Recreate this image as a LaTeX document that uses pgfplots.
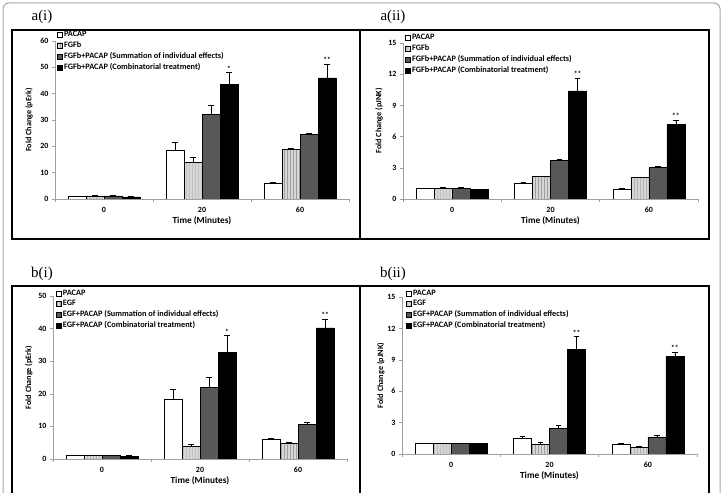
\documentclass[border=0pt]{standalone}
\usepackage{fontspec}
\setmainfont{Carlito}
\newfontfamily\seriffont{Liberation Serif}
\usepackage{pgfplots}
\usepackage{pgfplotstable}
\pgfplotsset{compat=1.18}
\usetikzlibrary{patterns}

\definecolor{lightbar}{HTML}{D6D6D6}
\definecolor{darkbar}{HTML}{585858}
\definecolor{axisgray}{HTML}{A0A0A0}

% columns: x, value, error (upper)
\pgfplotstableread{
x P eP F eF S eS C eC
0 1.0 0.2 1.2 0.2 1.2 0.2 0.8 0.2
1 18.5 3.0 14.0 2.0 32.0 3.5 43.5 4.5
2 6.0 0.5 18.8 0.3 24.5 0.4 46.0 5.2
}\dataai
\pgfplotstableread{
x P eP F eF S eS C eC
0 1.0 0.03 1.05 0.03 1.05 0.03 0.95 0.03
1 1.5 0.15 2.2 0.02 3.7 0.15 10.4 1.25
2 0.95 0.1 2.05 0.03 3.0 0.12 7.15 0.45
}\dataaii
\pgfplotstableread{
x P eP F eF S eS C eC
0 1.0 0.1 1.0 0.1 1.0 0.1 0.9 0.1
1 18.3 3.2 3.8 0.8 22.0 3.2 32.6 5.2
2 6.0 0.4 4.8 0.4 10.6 0.7 40.2 2.8
}\databi
\pgfplotstableread{
x P eP F eF S eS C eC
0 1.0 0.02 1.0 0.02 1.0 0.02 1.0 0.02
1 1.5 0.2 0.95 0.15 2.45 0.25 10.0 1.2
2 0.95 0.1 0.65 0.07 1.6 0.2 9.3 0.45
}\databii

\tikzset{signif/.style={font=\fontsize{7.5}{8}\selectfont\bfseries, anchor=south, xshift=27bp, inner sep=1bp}}

\pgfplotsset{
  panel/.style={
    scale only axis,
    anchor=south west,
    ybar=0pt,
    bar width=18bp,
    xmin=-0.5, xmax=2.5, ymin=0,
    xtick={0,1,2},
    xticklabels={0,20,60},
    minor xtick={-0.5,0.5,1.5,2.5},
    axis x line=bottom,
    axis y line=left,
    axis line style={axisgray, line width=0.6bp, -},
    major x tick style={draw=none},
    minor x tick style={axisgray, line width=0.5bp},
    major y tick style={axisgray, line width=0.5bp},
    tick align=outside,
    major tick length=3bp,
    minor tick length=3bp,
    /pgf/number format/assume math mode=true,
    tick label style={font=\fontsize{8}{9}\selectfont\bfseries},
    xticklabel style={yshift=-2bp},
    xlabel={Time (Minutes)},
    xlabel style={font=\fontsize{9.3}{10}\selectfont\bfseries, at={(axis description cs:0.5,0)}, yshift=-22bp, anchor=center},
    ylabel style={font=\fontsize{8.2}{9}\selectfont\bfseries, anchor=center},
    legend style={draw=none, fill=none, font=\fontsize{8.3}{9}\selectfont\bfseries,
      anchor=north west, inner sep=0pt, row sep=2bp, column sep=1.2bp,
      nodes={inner sep=0.7bp}, cells={anchor=west}},
    legend image code/.code={\draw[#1, line width=0.5bp] (0bp,-2.5bp) rectangle (5bp,2.5bp);},
    error bars/y dir=plus,
    error bars/y explicit,
    error bars/error bar style={black, line width=0.6bp},
    error bars/error mark options={black, line width=0.6bp, mark size=2.8bp, rotate=90},
  },
  sP/.style={draw=black, line width=0.6bp, fill=white},
  sF/.style={draw=black, line width=0.6bp, fill=lightbar, postaction={pattern=vertical lines, pattern color=gray!75}},
  sS/.style={draw=black, line width=0.6bp, fill=darkbar},
  sC/.style={draw=black, line width=0.6bp, fill=black},
}

\begin{document}
\begin{tikzpicture}
\path (0bp,0bp) rectangle (724bp,493bp);
% outer rounded frame
\draw[gray!70, line width=1bp, rounded corners=6bp] (3bp,0bp) -- (3bp,490bp) -- (720bp,490bp) -- (720bp,0bp);
% panel frames
\draw[black, line width=1.4bp] (12bp,254bp) rectangle (709bp,463bp);
\draw[black, line width=2.2bp] (360bp,254bp) -- (360bp,463bp);
\draw[black, line width=1.4bp] (12bp,0bp) -- (12bp,207bp) -- (709bp,207bp) -- (709bp,0bp);
\draw[black, line width=2.2bp] (360bp,0bp) -- (360bp,207bp);
% panel labels
\node[font=\seriffont\fontsize{15}{17}\selectfont] at (42bp,476bp) {a(i)};
\node[font=\seriffont\fontsize{15}{17}\selectfont] at (393bp,476bp) {a(ii)};
\node[font=\seriffont\fontsize{15}{17}\selectfont] at (42bp,219bp) {b(i)};
\node[font=\seriffont\fontsize{15}{17}\selectfont] at (393bp,219bp) {b(ii)};

% a(i)
\begin{axis}[panel, at={(55bp,294bp)}, width=294bp, height=158bp, ymax=60, ytick={0,10,...,60},
  ylabel={Fold Change (pErk)}, ylabel style={at={(axis description cs:-0.088,0.5)}},
  legend style={at={(axis description cs:0.005,1.066)}}]
\addplot[sP] table[x=x, y=P, y error=eP] {\dataai};
\addplot[sF] table[x=x, y=F, y error=eF] {\dataai};
\addplot[sS] table[x=x, y=S, y error=eS] {\dataai};
\addplot[sC] table[x=x, y=C, y error=eC] {\dataai};
\legend{PACAP, FGFb, FGFb+PACAP (Summation of individual effects), FGFb+PACAP (Combinatorial treatment)}
\node[signif] at (axis cs:1,48) {*};
\node[signif] at (axis cs:2,51.2) {**};
\end{axis}

% a(ii)
\begin{axis}[panel, at={(403bp,294bp)}, width=295bp, height=156bp, ymax=15, ytick={0,3,...,15},
  ylabel={Fold Change (pJNK)}, ylabel style={at={(axis description cs:-0.081,0.5)}},
  legend style={at={(axis description cs:0.005,1.06)}}]
\addplot[sP] table[x=x, y=P, y error=eP] {\dataaii};
\addplot[sF] table[x=x, y=F, y error=eF] {\dataaii};
\addplot[sS] table[x=x, y=S, y error=eS] {\dataaii};
\addplot[sC] table[x=x, y=C, y error=eC] {\dataaii};
\legend{PACAP, FGFb, FGFb+PACAP (Summation of individual effects), FGFb+PACAP (Combinatorial treatment)}
\node[signif] at (axis cs:1,11.65) {**};
\node[signif] at (axis cs:2,7.6) {**};
\end{axis}

% b(i)
\begin{axis}[panel, at={(53bp,34bp)}, width=294bp, height=163bp, ymax=50, ytick={0,10,...,50},
  ylabel={Fold Change (pErk)}, ylabel style={at={(axis description cs:-0.082,0.5)}},
  legend style={at={(axis description cs:0.008,1.043)}}]
\addplot[sP] table[x=x, y=P, y error=eP] {\databi};
\addplot[sF] table[x=x, y=F, y error=eF] {\databi};
\addplot[sS] table[x=x, y=S, y error=eS] {\databi};
\addplot[sC] table[x=x, y=C, y error=eC] {\databi};
\legend{PACAP, EGF, EGF+PACAP (Summation of individual effects), EGF+PACAP (Combinatorial treatment)}
\node[signif] at (axis cs:1,37.8) {*};
\node[signif] at (axis cs:2,43) {**};
\end{axis}

% b(ii)
\begin{axis}[panel, at={(402bp,39bp)}, width=295bp, height=157bp, ymax=15, ytick={0,3,...,15},
  ylabel={Fold Change (pJNK)}, ylabel style={at={(axis description cs:-0.072,0.5)}},
  legend style={at={(axis description cs:0.012,1.051)}}]
\addplot[sP] table[x=x, y=P, y error=eP] {\databii};
\addplot[sF] table[x=x, y=F, y error=eF] {\databii};
\addplot[sS] table[x=x, y=S, y error=eS] {\databii};
\addplot[sC] table[x=x, y=C, y error=eC] {\databii};
\legend{PACAP, EGF, EGF+PACAP (Summation of individual effects), EGF+PACAP (Combinatorial treatment)}
\node[signif] at (axis cs:1,11.2) {**};
\node[signif] at (axis cs:2,9.75) {**};
\end{axis}
\end{tikzpicture}
\end{document}
